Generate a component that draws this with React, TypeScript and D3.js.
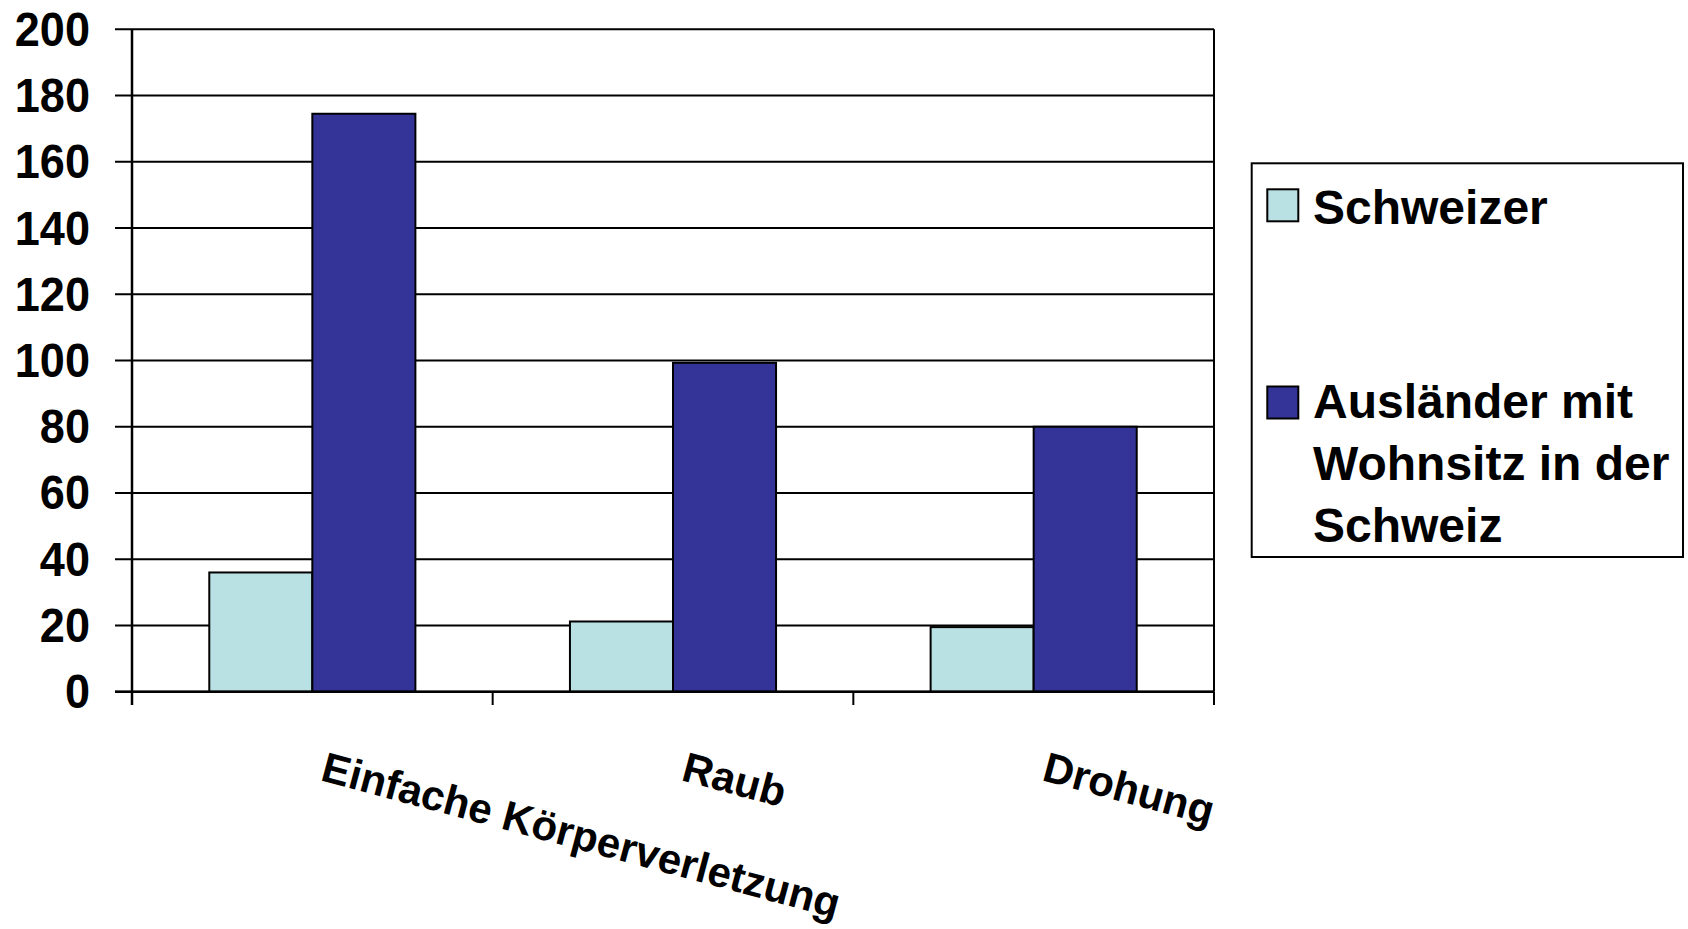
import React from "react";
import * as d3 from "d3";

const categories = ["Einfache Körperverletzung", "Raub", "Drohung"];
const seriesNames = ["Schweizer", "Ausländer mit Wohnsitz in der Schweiz"];
const schweizer = [36, 21.2, 19.5];
const auslaender = [174.5, 99.3, 80];
const yTicks = [0, 20, 40, 60, 80, 100, 120, 140, 160, 180, 200];
const legendLines = [["Schweizer"], ["Ausländer mit", "Wohnsitz in der", "Schweiz"]];
const colors = ["#B9E0E3", "#343498"];

const W = 1688;
const H = 929;
const FONT = "'Liberation Sans', Arial, sans-serif";

export default function App() {
  const plotLeft = 132;
  const plotRight = 1214;
  const plotTop = 29.3;
  const plotBottom = 691.7;

  const y = d3.scaleLinear().domain([0, 200]).range([plotBottom, plotTop]);
  const x0 = d3.scaleBand<string>().domain(categories).range([plotLeft, plotRight]).paddingInner(0).paddingOuter(0);
  const x1 = d3.scaleBand<string>().domain(seriesNames).range([0, x0.bandwidth()]).paddingInner(0).paddingOuter(0.75);
  const values = [schweizer, auslaender];

  const boundaries = [...categories.map((c) => x0(c) as number), plotRight];

  return (
    <svg width={W} height={H} style={{ position: "absolute", left: 0, top: 0, background: "#fff" }} fontFamily={FONT}>
      <rect x={0} y={0} width={W} height={H} fill="#fff" />
      {yTicks.map((t) => (
        <line key={"g" + t} x1={115} x2={plotRight} y1={y(t)} y2={y(t)} stroke="#000" strokeWidth={2} />
      ))}
      <line x1={plotRight} x2={plotRight} y1={plotTop} y2={plotBottom} stroke="#000" strokeWidth={2} />
      {categories.map((c, ci) =>
        seriesNames.map((s, si) => {
          const bx = (x0(c) as number) + (x1(s) as number);
          const by = y(values[si][ci]);
          return (
            <rect
              key={c + s}
              x={bx}
              y={by}
              width={x1.bandwidth()}
              height={plotBottom - by}
              fill={colors[si]}
              stroke="#000"
              strokeWidth={2}
            />
          );
        })
      )}
      <line x1={plotLeft} x2={plotLeft} y1={plotTop} y2={705} stroke="#000" strokeWidth={2.5} />
      <line x1={115} x2={plotRight} y1={plotBottom} y2={plotBottom} stroke="#000" strokeWidth={2.5} />
      {boundaries.map((b, i) => (
        <line key={"xt" + i} x1={b} x2={b} y1={plotBottom} y2={705} stroke="#000" strokeWidth={2} />
      ))}
      {yTicks.map((t) => (
        <text
          key={"yl" + t}
          transform={`translate(90,${y(t) + 16.5}) scale(0.92,1)`}
          textAnchor="end"
          fontSize={49}
          fontWeight="bold"
          fill="#000"
        >
          {t}
        </text>
      ))}
      {categories.map((c) => {
        const cx = (x0(c) as number) + x0.bandwidth() / 2;
        return (
          <text
            key={"xl" + c}
            transform={`translate(${cx + 7},780) rotate(15)`}
            textAnchor="start"
            fontSize={42}
            fontWeight="bold"
            fill="#000"
          >
            {c}
          </text>
        );
      })}
      <rect x={1251.7} y={163.3} width={1683 - 1251.7} height={557 - 163.3} fill="#fff" stroke="#000" strokeWidth={2} />
      {legendLines.map((lines, i) => {
        const sy = i === 0 ? 189.3 : 386.5;
        const baseY = i === 0 ? 224 : 418.3;
        return (
          <g key={"lg" + i}>
            <rect x={1267.3} y={sy} width={31} height={32} fill={colors[i]} stroke="#000" strokeWidth={2} />
            {lines.map((ln, li) => (
              <text key={ln} x={1313} y={baseY + li * 61.7} fontSize={48} fontWeight="bold" fill="#000">
                {ln}
              </text>
            ))}
          </g>
        );
      })}
    </svg>
  );
}
